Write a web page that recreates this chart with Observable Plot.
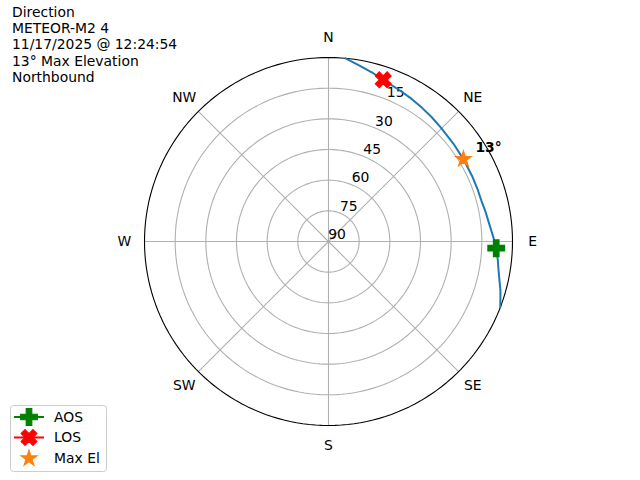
<!DOCTYPE html>
<html><head><meta charset="utf-8">
<script src="https://cdn.jsdelivr.net/npm/d3@7"></script>
<script src="https://cdn.jsdelivr.net/npm/@observablehq/plot@0.6"></script>
<style>
body{margin:0;background:#fff;}
#fig{position:relative;width:640px;height:480px;font-family:"DejaVu Sans",sans-serif;overflow:hidden;}
#title{position:absolute;left:12px;top:3.5px;font-size:13.9px;line-height:16.4px;white-space:pre;color:#000;}
#legend{position:absolute;left:0;top:400px;}
</style></head><body><div id="fig"></div>
<script>
// ---- data ----
const titleLines = ["Direction", "METEOR-M2 4", "11/17/2025 @ 12:24:54", "13° Max Elevation", "Northbound"];
const passAz = [5.3, 10, 18.7, 25.5, 35, 44.5, 52, 58.6, 66, 75, 83, 88.6, 92.3, 100, 106, 111];
const passEl = [0, 2.6, 6.5, 8.3, 10.2, 11.7, 12.4, 12.7, 12.8, 12.6, 11.1, 9.3, 7.9, 5.5, 2.5, 0];
const eventNames = ["AOS", "LOS", "Max El"];
const eventAz = [92.3, 18.7, 58.6];
const eventEl = [7.9, 6.5, 12.7];
const maxElevationLabel = "13°";
const directionNames = ["N", "NE", "E", "SE", "S", "SW", "W", "NW"];
const directionAz = [0, 45, 90, 135, 180, 225, 270, 315];
const ringTicks = [90, 75, 60, 45, 30, 15];

// ---- helpers ----
const lon = az => 180 - az;            // azimuth (clockwise from N) -> projection longitude
const horizon = d3.geoCircle().center([0, 90]).radius(90)();
const labelEl = -9.8;                   // direction labels just outside the horizon
const tickAz = 22.5;

const track = passAz.map((a, i) => ({az: a, el: passEl[i]}));
const events = eventNames.map((n, i) => ({name: n, az: eventAz[i], el: eventEl[i]}));
const rings = ringTicks.filter(e => e > 0 && e < 90).map(e => d3.geoCircle().center([0, 90]).radius(90 - e)());
const spokes = directionAz.map(a => ({type: "LineString", coordinates: [[lon(a), 89.9999], [lon(a), 0]]}));
const dirs = directionNames.map((n, i) => ({name: n, az: directionAz[i]}));

const styles = {
  AOS: {color: "green", symbol: "cross", rotate: 0, r: 7},
  LOS: {color: "red", symbol: "cross", rotate: 45, r: 7},
  "Max El": {color: "#ff7f0e", symbol: "star", rotate: 0, r: 4.9}
};

const chart = Plot.plot({
  width: 640, height: 480,
  marginLeft: 144, marginRight: 128, marginTop: 57, marginBottom: 55,
  projection: {type: "azimuthal-equidistant", rotate: [0, -90], domain: horizon, clip: false},
  style: {fontFamily: "DejaVu Sans, sans-serif", fontSize: "13.9px", background: "white", overflow: "visible"},
  marks: [
    Plot.geo(rings, {stroke: "#b0b0b0", strokeWidth: 1.1, fill: "none"}),
    Plot.geo(spokes, {stroke: "#b0b0b0", strokeWidth: 1.1}),
    Plot.geo([horizon], {stroke: "black", strokeWidth: 1.1, fill: "none"}),
    Plot.text(ringTicks, {x: () => lon(tickAz), y: d => d, text: d => String(d), dx: 8.5, dy: -7, fill: "black"}),
    Plot.text(dirs, {x: d => lon(d.az), y: () => labelEl, text: "name", fill: "black"}),
    Plot.line(track, {x: d => lon(d.az), y: "el", stroke: "#1f77b4", strokeWidth: 2}),
    ...events.map(e => Plot.dot([e], {x: d => lon(d.az), y: "el", symbol: styles[e.name].symbol, rotate: styles[e.name].rotate,
      r: styles[e.name].r, fill: styles[e.name].color, stroke: styles[e.name].color, strokeWidth: 1.2})),
    Plot.text(events.filter(e => e.name === "Max El"), {x: d => lon(d.az), y: "el", text: () => maxElevationLabel,
      textAnchor: "start", dx: 12, dy: -12, fontWeight: "bold", fill: "black"})
  ]
});

const fig = document.getElementById("fig");
fig.appendChild(chart);
const title = document.createElement("div");
title.id = "title";
title.textContent = titleLines.join("\n");
fig.appendChild(title);

// legend
const lg = d3.select(fig).append("svg").attr("id", "legend").attr("width", 120).attr("height", 80);
lg.append("rect").attr("x", 10.5).attr("y", 5.5).attr("width", 96).attr("height", 66).attr("rx", 3)
  .attr("fill", "white").attr("fill-opacity", 0.8).attr("stroke", "#cccccc");
const rowY = [17, 37.5, 58.5];
eventNames.forEach((n, i) => {
  const s = styles[n];
  const g = lg.append("g").attr("transform", `translate(0,${rowY[i]})`);
  if (n !== "Max El") g.append("line").attr("x1", 14).attr("x2", 44).attr("stroke", s.color).attr("stroke-width", 2);
  const sym = s.symbol === "star" ? d3.symbolStar : d3.symbolCross;
  g.append("path").attr("d", d3.symbol(sym, Math.PI * s.r * s.r)())
    .attr("transform", `translate(29,0) rotate(${s.rotate})`)
    .attr("fill", s.color).attr("stroke", s.color).attr("stroke-width", 1.2);
  g.append("text").attr("x", 54).attr("y", 0).attr("dy", "0.35em").attr("font-size", "13.9px")
    .attr("font-family", "DejaVu Sans, sans-serif").text(n);
});
</script></body></html>
